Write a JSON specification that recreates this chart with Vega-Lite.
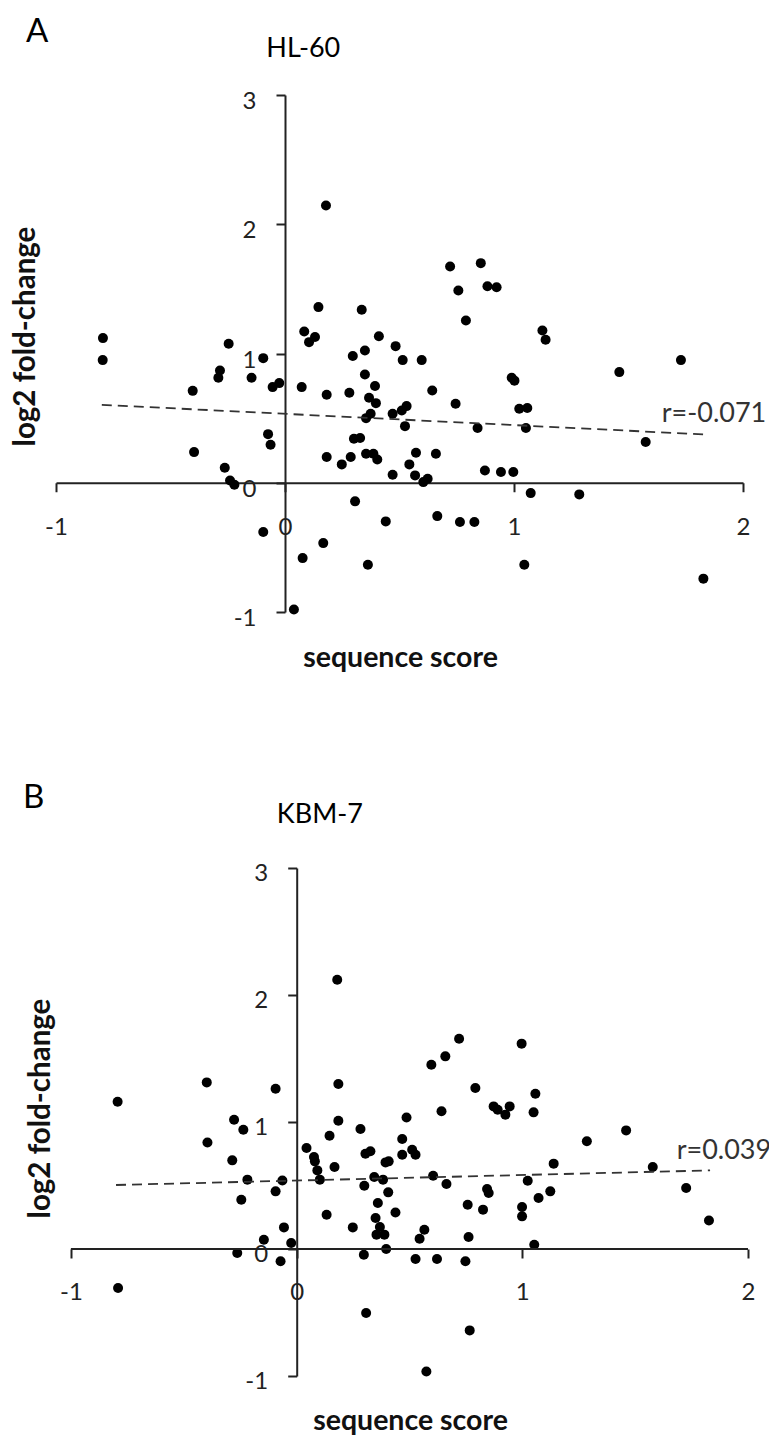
{
  "$schema": "https://vega.github.io/schema/vega-lite/v6.json",
  "padding": {"left": 10, "top": 15, "right": 0, "bottom": 0},
  "background": "white",
  "config": {
    "view": {"stroke": null},
    "font": "Lato",
    "axis": {"grid": false},
    "title": {"font": "Lato"}
  },
  "spacing": 108,
  "datasets": {
    "hl60": [
      {"x": -0.795, "y": 1.119}, {"x": -0.796, "y": 0.949}, {"x": -0.246, "y": 1.075}, {"x": -0.095, "y": 0.964},
      {"x": -0.284, "y": 0.869}, {"x": -0.291, "y": 0.812}, {"x": -0.403, "y": 0.711}, {"x": -0.146, "y": 0.812},
      {"x": -0.054, "y": 0.740}, {"x": -0.025, "y": 0.771}, {"x": -0.074, "y": 0.376}, {"x": -0.063, "y": 0.294},
      {"x": -0.397, "y": 0.237}, {"x": -0.263, "y": 0.116}, {"x": -0.240, "y": 0.018}, {"x": -0.221, "y": -0.015},
      {"x": -0.095, "y": -0.381}, {"x": 0.077, "y": -0.583}, {"x": 0.167, "y": -0.467}, {"x": 0.039, "y": -0.980},
      {"x": 0.306, "y": -0.144}, {"x": 0.440, "y": -0.299}, {"x": 0.362, "y": -0.634}, {"x": 0.146, "y": 1.359},
      {"x": 0.084, "y": 1.170}, {"x": 0.105, "y": 1.088}, {"x": 0.131, "y": 1.127}, {"x": 0.335, "y": 1.338},
      {"x": 0.296, "y": 0.980}, {"x": 0.349, "y": 1.023}, {"x": 0.410, "y": 1.134}, {"x": 0.483, "y": 1.057},
      {"x": 0.073, "y": 0.740}, {"x": 0.182, "y": 0.681}, {"x": 0.281, "y": 0.696}, {"x": 0.349, "y": 0.838},
      {"x": 0.393, "y": 0.748}, {"x": 0.367, "y": 0.657}, {"x": 0.397, "y": 0.616}, {"x": 0.374, "y": 0.534},
      {"x": 0.354, "y": 0.500}, {"x": 0.470, "y": 0.534}, {"x": 0.301, "y": 0.340}, {"x": 0.328, "y": 0.346},
      {"x": 0.182, "y": 0.199}, {"x": 0.248, "y": 0.142}, {"x": 0.287, "y": 0.199}, {"x": 0.354, "y": 0.224},
      {"x": 0.386, "y": 0.224}, {"x": 0.403, "y": 0.180}, {"x": 0.470, "y": 0.062}, {"x": 0.514, "y": 0.949},
      {"x": 0.597, "y": 0.949}, {"x": 0.757, "y": 1.487}, {"x": 0.884, "y": 1.521}, {"x": 0.924, "y": 1.513},
      {"x": 0.790, "y": 1.255}, {"x": 1.124, "y": 1.178}, {"x": 1.138, "y": 1.106}, {"x": 1.729, "y": 0.949},
      {"x": 1.460, "y": 0.856}, {"x": 0.990, "y": 0.812}, {"x": 1.002, "y": 0.790}, {"x": 0.643, "y": 0.714},
      {"x": 0.745, "y": 0.611}, {"x": 0.510, "y": 0.559}, {"x": 0.531, "y": 0.593}, {"x": 0.524, "y": 0.438},
      {"x": 1.023, "y": 0.572}, {"x": 1.058, "y": 0.578}, {"x": 1.052, "y": 0.423}, {"x": 0.841, "y": 0.423},
      {"x": 1.575, "y": 0.315}, {"x": 0.572, "y": 0.232}, {"x": 0.659, "y": 0.224}, {"x": 0.543, "y": 0.142},
      {"x": 0.568, "y": 0.057}, {"x": 0.604, "y": 0.005}, {"x": 0.623, "y": 0.031}, {"x": 0.873, "y": 0.095},
      {"x": 0.943, "y": 0.083}, {"x": 0.997, "y": 0.083}, {"x": 1.073, "y": -0.080}, {"x": 1.285, "y": -0.090},
      {"x": 0.665, "y": -0.258}, {"x": 0.764, "y": -0.304}, {"x": 0.827, "y": -0.304}, {"x": 1.045, "y": -0.634},
      {"x": 1.827, "y": -0.742}, {"x": 0.179, "y": 2.145}, {"x": 0.721, "y": 1.673}, {"x": 0.855, "y": 1.699}
    ],
    "kbm7": [
      {"x": 0.180, "y": 2.120}, {"x": -0.398, "y": 1.312}, {"x": -0.093, "y": 1.262}, {"x": 0.185, "y": 1.299},
      {"x": -0.793, "y": 1.160}, {"x": 0.720, "y": 1.656}, {"x": 0.659, "y": 1.517}, {"x": 0.597, "y": 1.451},
      {"x": 0.997, "y": 1.617}, {"x": 0.792, "y": 1.268}, {"x": 1.058, "y": 1.223}, {"x": -0.277, "y": 1.018},
      {"x": -0.236, "y": 0.939}, {"x": -0.395, "y": 0.839}, {"x": 0.185, "y": 1.010}, {"x": -0.285, "y": 0.698},
      {"x": -0.218, "y": 0.546}, {"x": -0.063, "y": 0.540}, {"x": -0.093, "y": 0.454}, {"x": -0.245, "y": 0.388},
      {"x": -0.056, "y": 0.170}, {"x": -0.145, "y": 0.073}, {"x": -0.024, "y": 0.047}, {"x": -0.263, "y": -0.031},
      {"x": -0.071, "y": -0.097}, {"x": -0.791, "y": -0.307}, {"x": 0.308, "y": -0.504}, {"x": 0.044, "y": 0.795},
      {"x": 0.077, "y": 0.724}, {"x": 0.081, "y": 0.690}, {"x": 0.092, "y": 0.619}, {"x": 0.103, "y": 0.546},
      {"x": 0.146, "y": 0.892}, {"x": 0.168, "y": 0.646}, {"x": 0.133, "y": 0.270}, {"x": 0.283, "y": 0.945},
      {"x": 0.305, "y": 0.750}, {"x": 0.327, "y": 0.769}, {"x": 0.300, "y": 0.498}, {"x": 0.344, "y": 0.567},
      {"x": 0.383, "y": 0.546}, {"x": 0.394, "y": 0.682}, {"x": 0.408, "y": 0.690}, {"x": 0.406, "y": 0.446},
      {"x": 0.360, "y": 0.362}, {"x": 0.438, "y": 0.288}, {"x": 0.350, "y": 0.244}, {"x": 0.369, "y": 0.173},
      {"x": 0.354, "y": 0.113}, {"x": 0.389, "y": 0.113}, {"x": 0.249, "y": 0.170}, {"x": 0.298, "y": -0.045},
      {"x": 0.397, "y": 0.000}, {"x": 0.468, "y": 0.866}, {"x": 0.468, "y": 0.742}, {"x": 0.512, "y": 0.782},
      {"x": 0.527, "y": 0.742}, {"x": 1.050, "y": 1.076}, {"x": 0.642, "y": 1.084}, {"x": 0.487, "y": 1.036},
      {"x": 0.873, "y": 1.123}, {"x": 0.891, "y": 1.097}, {"x": 0.925, "y": 1.058}, {"x": 0.944, "y": 1.123},
      {"x": 1.460, "y": 0.934}, {"x": 1.286, "y": 0.848}, {"x": 1.139, "y": 0.672}, {"x": 1.578, "y": 0.646},
      {"x": 0.605, "y": 0.577}, {"x": 0.664, "y": 0.512}, {"x": 1.024, "y": 0.538}, {"x": 0.844, "y": 0.472},
      {"x": 0.851, "y": 0.441}, {"x": 1.124, "y": 0.454}, {"x": 1.072, "y": 0.401}, {"x": 1.726, "y": 0.480},
      {"x": 0.758, "y": 0.349}, {"x": 0.826, "y": 0.310}, {"x": 0.999, "y": 0.331}, {"x": 0.999, "y": 0.257},
      {"x": 1.827, "y": 0.225}, {"x": 0.566, "y": 0.152}, {"x": 0.545, "y": 0.081}, {"x": 0.762, "y": 0.094},
      {"x": 1.053, "y": 0.034}, {"x": 0.527, "y": -0.079}, {"x": 0.622, "y": -0.079}, {"x": 0.748, "y": -0.097},
      {"x": 0.767, "y": -0.641}, {"x": 0.575, "y": -0.964}
    ],
    "fitA": [{"x": -0.80, "y": 0.603}, {"x": 1.827, "y": 0.374}],
    "fitB": [{"x": -0.80, "y": 0.504}, {"x": 1.832, "y": 0.619}],
    "labA": [
      {"x": 0.080, "y": 3.296, "t": "HL-60", "kind": "name"},
      {"x": 1.645, "y": 0.472, "t": "r=-0.071", "kind": "r"}
    ],
    "labB": [
      {"x": 0.103, "y": 3.357, "t": "KBM-7", "kind": "name"},
      {"x": 1.684, "y": 0.706, "t": "r=0.039", "kind": "r"}
    ]
  },
  "vconcat": [
    {
      "width": 687,
      "height": 517,
      "title": {"text": "A", "anchor": "start", "frame": "group", "dx": -30, "fontSize": 33, "fontWeight": "normal", "color": "black", "baseline": "alphabetic", "offset": -40},
      "encoding": {
        "x": {"field": "x", "type": "quantitative", "title": "sequence score", "scale": {"domain": [-1, 2], "nice": false, "zero": false},
          "axis": {"values": [-1, 0, 1, 2], "labelExpr": "'' + datum.value", "offset": -129.25,
            "titleX": 344, "titleY": 184, "titleAlign": "center", "titleBaseline": "alphabetic", "titleFontSize": 28.5, "titleFontWeight": "bold", "titleColor": "#111",
            "labelFontSize": 24, "labelColor": "#222", "labelBaseline": "alphabetic", "labelPadding": 43, "labelFlush": false,
            "tickSize": 9, "tickWidth": 2, "tickColor": "#222", "domainColor": "#222", "domainWidth": 2}},
        "y": {"field": "y", "type": "quantitative", "title": "log2 fold-change", "scale": {"domain": [-1, 3], "nice": false, "zero": false},
          "axis": {"values": [-1, 0, 1, 2, 3], "labelExpr": "'' + datum.value", "offset": -229,
            "titleX": -250.7, "titleY": 241, "titleAngle": 270, "titleAlign": "center", "titleBaseline": "alphabetic", "titleFontSize": 29.5, "titleFontWeight": "bold", "titleColor": "#111",
            "labelFontSize": 24, "labelColor": "#222", "labelBaseline": "alphabetic", "labelOffset": 13.5, "labelPadding": 20, "labelFlush": false,
            "tickSize": 9, "tickWidth": 2, "tickColor": "#222", "domainColor": "#222", "domainWidth": 2}}
      },
      "layer": [
        {
          "data": {"name": "hl60"},
          "mark": {"type": "point", "filled": true, "size": 100, "color": "black", "opacity": 1}
        },
        {
          "data": {"name": "fitA"},
          "mark": {"type": "line", "color": "#333", "strokeWidth": 1.8, "strokeDash": [10, 6]}
        },
        {
          "data": {"name": "labA"},
          "transform": [{"filter": "datum.kind == 'name'"}],
          "mark": {"type": "text", "fontSize": 27, "color": "black", "align": "center", "baseline": "alphabetic"},
          "encoding": {"text": {"field": "t"}}
        },
        {
          "data": {"name": "labA"},
          "transform": [{"filter": "datum.kind == 'r'"}],
          "mark": {"type": "text", "fontSize": 27, "color": "#333", "align": "left", "baseline": "alphabetic"},
          "encoding": {"text": {"field": "t"}}
        }
      ]
    },
    {
      "width": 692,
      "height": 508,
      "title": {"text": "B", "anchor": "start", "frame": "group", "dx": -33, "fontSize": 33, "fontWeight": "normal", "color": "black", "baseline": "alphabetic", "offset": -40},
      "encoding": {
        "x": {"field": "x", "type": "quantitative", "title": "sequence score", "scale": {"domain": [-1.066, 2], "nice": false, "zero": false},
          "axis": {"values": [-1, 0, 1, 2], "labelExpr": "'' + datum.value", "offset": -127,
            "titleX": 354, "titleY": 180, "titleAlign": "center", "titleBaseline": "alphabetic", "titleFontSize": 28.5, "titleFontWeight": "bold", "titleColor": "#111",
            "labelFontSize": 24, "labelColor": "#222", "labelBaseline": "alphabetic", "labelPadding": 41, "labelFlush": false,
            "tickSize": 9, "tickWidth": 2, "tickColor": "#222", "domain": false}},
        "y": {"field": "y", "type": "quantitative", "title": "log2 fold-change", "scale": {"domain": [-1, 3], "nice": false, "zero": false},
          "axis": {"values": [-1, 0, 1, 2, 3], "labelExpr": "'' + datum.value", "offset": -240.7,
            "titleX": -247.3, "titleY": 240, "titleAngle": 270, "titleAlign": "center", "titleBaseline": "alphabetic", "titleFontSize": 29.5, "titleFontWeight": "bold", "titleColor": "#111",
            "labelFontSize": 24, "labelColor": "#222", "labelBaseline": "alphabetic", "labelOffset": 12.2, "labelPadding": 20, "labelFlush": false,
            "tickSize": 9, "tickWidth": 2, "tickColor": "#222", "domainColor": "#222", "domainWidth": 2}}
      },
      "layer": [
        {
          "data": {"name": "kbm7"},
          "mark": {"type": "point", "filled": true, "size": 100, "color": "black", "opacity": 1}
        },
        {
          "data": {"values": [{"x": -1, "x2": 2, "y": 0}]},
          "mark": {"type": "rule", "color": "#222", "strokeWidth": 2},
          "encoding": {"x2": {"field": "x2"}}
        },
        {
          "data": {"name": "fitB"},
          "mark": {"type": "line", "color": "#333", "strokeWidth": 1.8, "strokeDash": [10, 6]}
        },
        {
          "data": {"name": "labB"},
          "transform": [{"filter": "datum.kind == 'name'"}],
          "mark": {"type": "text", "fontSize": 27, "color": "black", "align": "center", "baseline": "alphabetic"},
          "encoding": {"text": {"field": "t"}}
        },
        {
          "data": {"name": "labB"},
          "transform": [{"filter": "datum.kind == 'r'"}],
          "mark": {"type": "text", "fontSize": 27, "color": "#333", "align": "left", "baseline": "alphabetic"},
          "encoding": {"text": {"field": "t"}}
        }
      ]
    }
  ]
}
